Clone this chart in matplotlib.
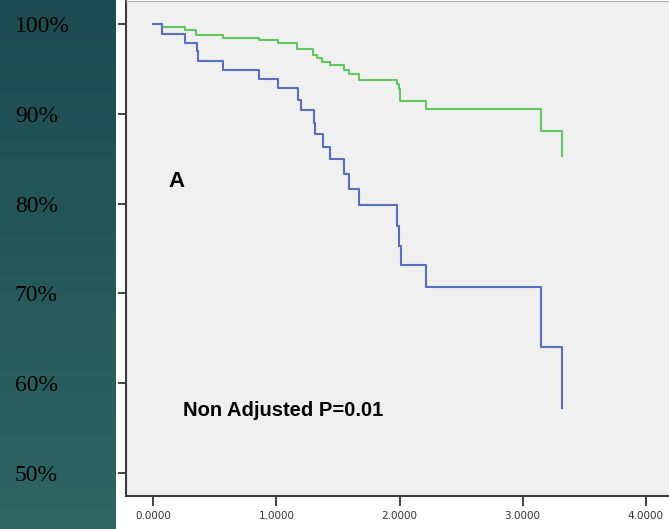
import numpy as np
import matplotlib
matplotlib.use('Agg')
import matplotlib.pyplot as plt

# ── data ──────────────────────────────────────────────────────
green_t = [0, 0.074, 0.26, 0.347, 0.563, 0.86, 1.013, 1.167, 1.294, 1.33, 1.37,
           1.432, 1.546, 1.592, 1.668, 1.98, 1.993, 2.006, 2.215, 3.149, 3.32]
green_s = [100, 99.67, 99.4, 98.85, 98.5, 98.2, 97.9, 97.2, 96.55, 96.25, 95.8,
           95.45, 94.95, 94.4, 93.8, 93.3, 92.75, 91.5, 90.6, 88.1, 85.3]

blue_t = [0, 0.074, 0.26, 0.355, 0.363, 0.563, 0.86, 1.013, 1.172, 1.2, 1.302,
          1.316, 1.375, 1.432, 1.551, 1.592, 1.668, 1.98, 1.998, 2.012, 2.215,
          3.149, 3.32]
blue_s = [100, 98.95, 97.9, 97.0, 95.95, 94.95, 93.95, 92.9, 91.6, 90.4, 89.0,
          87.75, 86.3, 84.95, 83.3, 81.6, 79.9, 77.55, 75.3, 73.2, 70.7,
          64.0, 57.2]

y_ticks = [50, 60, 70, 80, 90, 100]
x_ticks = [0, 1, 2, 3, 4]

W, H = 669, 529
fig = plt.figure(figsize=(W / 100, H / 100), dpi=100)
fig.patch.set_facecolor('white')

# ── teal side panel ──────────────────────────────────────────
panel = fig.add_axes([0, 0, 116 / W, 1])
grad = np.linspace(0, 1, 256).reshape(-1, 1)
top_c = np.array([29, 75, 81]) / 255
bot_c = np.array([46, 102, 100]) / 255
img = top_c * (1 - grad[..., None]) + bot_c * grad[..., None]
panel.imshow(img, aspect='auto', extent=[0, 1, 0, 1])
panel.axis('off')

# ── main axes ────────────────────────────────────────────────
ax = fig.add_axes([126 / W, 1 - 496 / H, (W - 126) / W, 495 / H])
ax.set_facecolor('#f0f0f0')

ax.step(green_t, green_s, where='post', color='#62c862', lw=1.5)
ax.step(blue_t, blue_s, where='post', color='#5a6ebf', lw=1.5)

ax.set_xlim(-0.222, 4.189)
ax.set_ylim(47.42, 102.59)

ax.set_xticks(x_ticks)
ax.set_xticklabels([f'{v:.4f}' for v in x_ticks], fontsize=7.5,
                   family='DejaVu Sans', color='#333333')
ax.set_yticks(y_ticks)
ax.set_yticklabels([f'{v}%' for v in y_ticks], fontsize=17,
                   family='Liberation Serif', color='black', ha='left')
ax.tick_params(axis='x', length=7, width=1.3, color='#333333', pad=4)
ax.tick_params(axis='y', length=6, width=1.3, color='#333333', pad=74)

for sp in ['left', 'bottom']:
    ax.spines[sp].set_color('#3a3a3a')
    ax.spines[sp].set_linewidth(1.5)
ax.spines['top'].set_color('#b0b0b0')
ax.spines['right'].set_visible(False)

ax.text(0.119, 81.9, 'A', fontsize=16, fontweight='bold',
        family='Liberation Sans', va='baseline', ha='left')
ax.text(0.241, 56.32, 'Non Adjusted P=0.01', fontsize=14.5, fontweight='bold',
        family='Liberation Sans', va='baseline', ha='left')

fig.savefig('out.png', dpi=100)
